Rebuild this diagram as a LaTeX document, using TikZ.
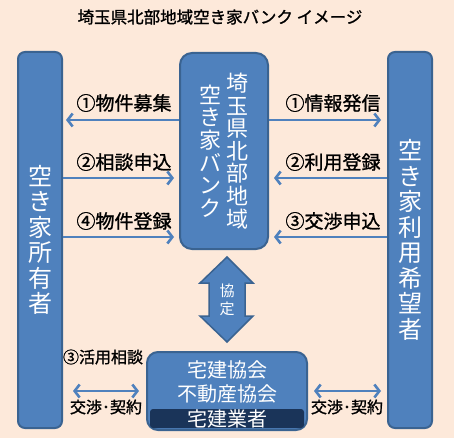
\documentclass[tikz,border=0pt]{standalone}
\usepackage{fontspec}
\setmainfont{Noto Sans CJK JP}
\newfontfamily\heavyjp[FakeBold=1.2]{Noto Sans CJK JP}
\usetikzlibrary{arrows.meta}
\definecolor{bg}{HTML}{FDE9DA}
\definecolor{boxblue}{HTML}{4F81BD}
\definecolor{boxedge}{HTML}{3A6391}
\definecolor{navy}{HTML}{1A3459}
\tikzset{
  party/.style={draw=boxedge, line width=2pt, fill=boxblue, rounded corners=7pt,
    text=white, inner sep=0pt, align=center},
  link/.style={draw=boxblue, line width=2.6pt, -{Straight Barb[length=5pt,width=13pt]}},
  duplex/.style={link, {Straight Barb[length=5pt,width=13pt]}-{Straight Barb[length=5pt,width=13pt]}},
  tag/.style={font=\heavyjp\fontsize{19}{19}\selectfont, inner sep=0pt},
  vtext/.style={text=white, align=center, inner sep=0pt}
}
\begin{document}
\begin{tikzpicture}[x=1pt,y=-1pt]
  \fill[bg] (0,0) rectangle (454,438);
  \node[font=\heavyjp\fontsize{16.5}{16.5}\selectfont] (title) at (220,17) {埼玉県北部地域空き家バンク\ イメージ};
  % parties
  \node[party, minimum width=44pt, minimum height=376pt, font=\fontsize{24}{25.5}\selectfont]
    (owner) at (40,240) {空\\き\\家\\所\\有\\者};
  \node[party, minimum width=44pt, minimum height=376pt, font=\fontsize{24}{25.5}\selectfont]
    (seeker) at (410,240) {空\\き\\家\\利\\用\\希\\望\\者};
  \node[party, rounded corners=12pt, minimum width=88pt, minimum height=196pt] (bank) at (224,151) {};
  \node[vtext, font=\fontsize{22}{22.6}\selectfont] (bankA) at ([xshift=13pt]bank.center) {埼\\玉\\県\\北\\部\\地\\域};
  \node[vtext, font=\fontsize{22}{22.6}\selectfont] (bankB) at ([xshift=-14pt]bank.center) {空\\き\\家\\バ\\ン\\ク};
  \node[party, rounded corners=11pt, minimum width=160pt, minimum height=78pt] (agent) at (227,391) {};
  \node[vtext, font=\fontsize{20}{24}\selectfont] (assoc) at (227,382) {宅建協会\\不動産協会};
  \node[fill=navy, rounded corners=3pt, minimum width=154pt, minimum height=19pt, inner sep=0pt,
    text=white, font=\fontsize{20}{20}\selectfont] (dealer) at (227,418.5) {宅建業者};
  % agreement arrow
  \draw[fill=boxblue, draw=boxedge, line width=1.5pt] (227,257) -- (253,283) -- (245,283) -- (245,316)
    -- (253,316) -- (227,342) -- (200,316) -- (209,316) -- (209,283) -- (200,283) -- cycle;
  \node[vtext, font=\fontsize{15}{18}\selectfont] (pact) at (227,300) {協\\定};
  % flows
  \draw[link, shorten >=3pt] ([yshift=31pt]bank.west) -- ([yshift=31pt]bank.west -| owner.east);
  \draw[link, shorten >=5pt] ([yshift=-27pt]bank.west -| owner.east) -- ([yshift=-27pt]bank.west);
  \draw[link, shorten >=5pt] ([yshift=-86pt]bank.west -| owner.east) -- ([yshift=-86pt]bank.west);
  \draw[link, shorten >=6pt] ([yshift=31pt]bank.east) -- ([yshift=31pt]bank.east -| seeker.west);
  \draw[link, shorten >=5pt] ([yshift=-27pt]bank.east -| seeker.west) -- ([yshift=-27pt]bank.east);
  \draw[link, shorten >=5pt] ([yshift=-86pt]bank.east -| seeker.west) -- ([yshift=-86pt]bank.east);
  \foreach \n/\y/\l/\r in {1/103/①物件募集/①情報発信, 2/162/②相談申込/②利用登録, 3/221/④物件登録/③交渉申込} {
    \node[tag] (tagL\n) at (124,\y) {\l};
    \node[tag] (tagR\n) at (333,\y) {\r};
  }
  % contracts
  \draw[duplex, shorten <=10pt, shorten >=7pt] (owner.east |- agent.west) -- (agent.west);
  \draw[duplex, shorten <=6pt, shorten >=6pt] (agent.east) -- (agent.east -| seeker.west);
  \node[tag, font=\heavyjp\fontsize{16}{16}\selectfont] (consult) at (103,357) {③活用相談};
  \node[tag, font=\heavyjp\fontsize{16}{16}\selectfont] (dealL) at (106,407) {交渉･契約};
  \node[tag, font=\heavyjp\fontsize{16}{16}\selectfont] (dealR) at (347,407) {交渉･契約};
\end{tikzpicture}
\end{document}
